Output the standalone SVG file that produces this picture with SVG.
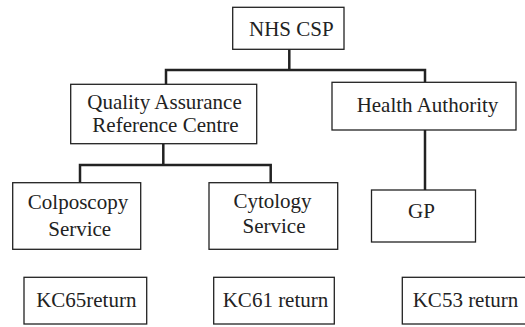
<svg xmlns="http://www.w3.org/2000/svg" width="525" height="327" viewBox="0 0 525 327">
<style>
.box{fill:#fff;stroke:#222;stroke-width:1.3}
.t{font-family:"Liberation Serif","Times New Roman",serif;font-size:21px;fill:#222;text-anchor:middle}
.c{fill:none;stroke:#222;stroke-width:2.5}
</style>
<rect width="525" height="327" fill="#fff"/>
<g id="connectors">
<path class="c" d="M289.3 49.3V70M166 84.3V70H425V82.3"/>
<path class="c" d="M163.3 143.7V165M80 182.7V165H270.7V182.7"/>
<path class="c" d="M425 130V190"/>
</g>
<g id="nhs"><rect class="box" x="232.7" y="7.3" width="111.3" height="42"/><text class="t" x="291.3" y="36">NHS CSP</text></g>
<g id="qa"><rect class="box" x="70.7" y="84.3" width="186" height="59.4"/><text class="t" x="164.5" y="108.6">Quality Assurance</text><text class="t" x="165.5" y="132.2">Reference Centre</text></g>
<g id="ha"><rect class="box" x="332" y="82.3" width="184" height="47.7"/><text class="t" x="427.5" y="112">Health Authority</text></g>
<g id="colpo"><rect class="box" x="12.7" y="182.7" width="128" height="66.6"/><text class="t" x="78" y="209">Colposcopy</text><text class="t" x="79.7" y="236">Service</text></g>
<g id="cyto"><rect class="box" x="209" y="182.7" width="128.7" height="66.6"/><text class="t" x="272.5" y="208">Cytology</text><text class="t" x="274" y="232.5">Service</text></g>
<g id="gp"><rect class="box" x="371.5" y="190" width="104" height="52"/><text class="t" x="421.5" y="218.3">GP</text></g>
<g id="kc65"><rect class="box" x="24" y="277.3" width="122.7" height="46.7"/><text class="t" x="86.3" y="306.7">KC65return</text></g>
<g id="kc61"><rect class="box" x="213.7" y="277.3" width="120.6" height="46.7"/><text class="t" x="275.5" y="306.7">KC61 return</text></g>
<g id="kc53"><rect class="box" x="402.3" y="277.3" width="130" height="46.7"/><text class="t" x="465.5" y="306.7">KC53 return</text></g>
</svg>
